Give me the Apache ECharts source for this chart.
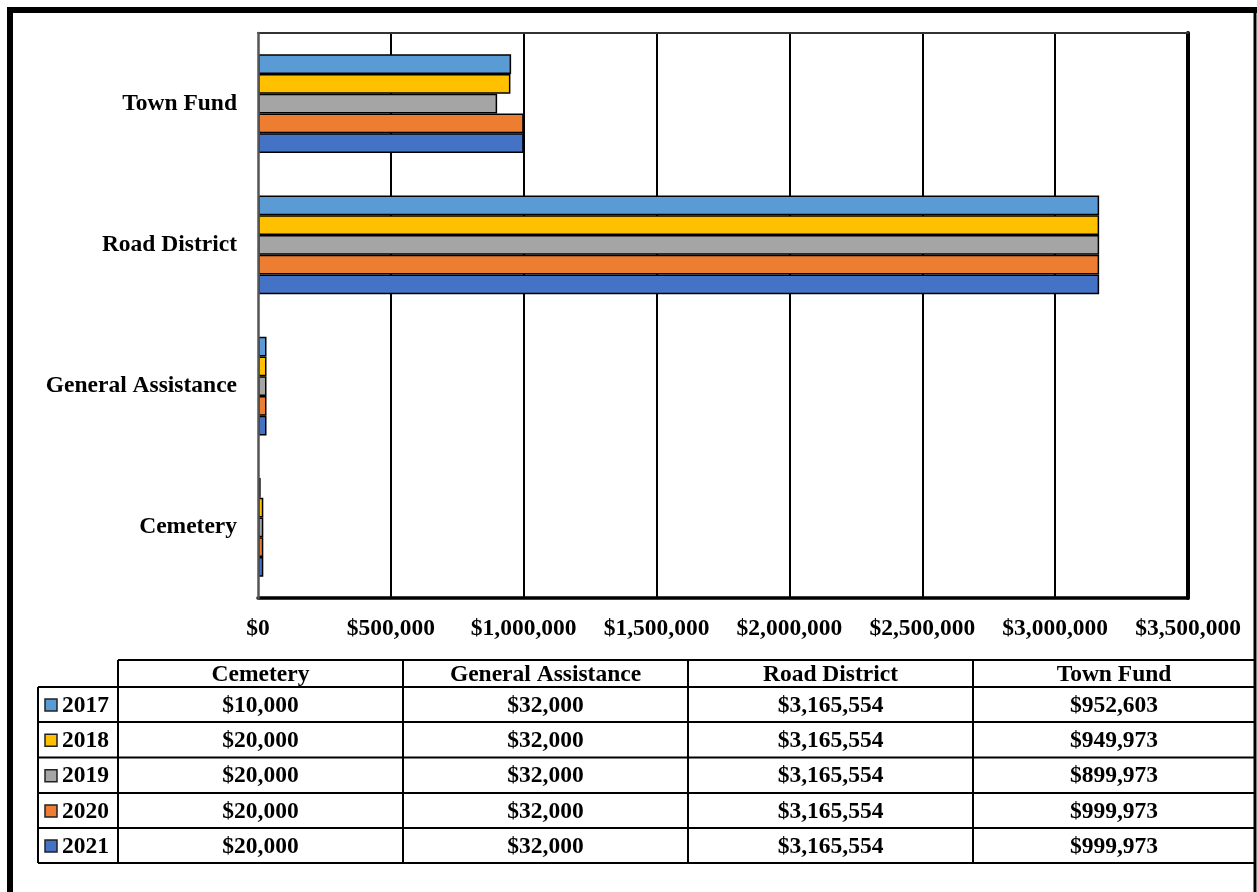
<!DOCTYPE html>
<html>
<head>
<meta charset="utf-8">
<style>
html,body{margin:0;padding:0;background:#fff;}
#chart{width:1257px;height:892px;}
</style>
<script src="https://cdn.jsdelivr.net/npm/echarts@6/dist/echarts.min.js"></script>
</head>
<body>
<div id="chart"></div>
<script>
// ---- data ----
const categories = ['Cemetery', 'General Assistance', 'Road District', 'Town Fund'];
const years = ['2017', '2018', '2019', '2020', '2021'];
const v2017 = [10000, 32000, 3165554, 952603];
const v2018 = [20000, 32000, 3165554, 949973];
const v2019 = [20000, 32000, 3165554, 899973];
const v2020 = [20000, 32000, 3165554, 999973];
const v2021 = [20000, 32000, 3165554, 999973];
const seriesValues = [v2017, v2018, v2019, v2020, v2021];
const axisMin = 0, axisMax = 3500000, axisStep = 500000;

// ---- style ----
const colors = ['#5B9BD5', '#FFC000', '#A5A5A5', '#ED7D31', '#4472C4'];
const FONT = '"Liberation Serif", "Times New Roman", serif';
const FS = 23.5;

function money(v) {
  return '$' + String(Math.round(v)).replace(/\B(?=(\d{3})+(?!\d))/g, ',');
}

const chart = echarts.init(document.getElementById('chart'), null, {renderer: 'canvas'});

// table layout
const colX = [118, 403, 688, 973, 1255];
const legLeft = 38;
const headTop = 660;
const rowY = [687, 722, 757.5, 793, 828, 863];

const graphics = [];
function line(x1, y1, x2, y2, w, c) {
  graphics.push({type: 'line', silent: true, z: 100,
    shape: {x1, y1, x2, y2}, style: {stroke: c || '#000', lineWidth: w}});
}
function text(t, x, y, align) {
  graphics.push({type: 'text', silent: true, z: 101, x, y,
    style: {text: t, fill: '#000', font: 'bold ' + FS + 'px ' + FONT,
      textAlign: align || 'center', align: align || 'center',
      textVerticalAlign: 'middle', verticalAlign: 'middle'}});
}
// outer frame
line(10, 7, 10, 892, 6);
line(7, 10, 1257, 10, 6);
line(1255, 10, 1255, 892, 3);
// table horizontal lines
line(colX[0], headTop, colX[4], headTop, 2);
rowY.forEach(y => line(legLeft, y, colX[4], y, 2));
// vertical lines
line(legLeft, rowY[0], legLeft, rowY[5], 2);
colX.forEach(x => line(x, headTop, x, rowY[5], 2));
// header texts
categories.forEach((c, i) => text(c, (colX[i] + colX[i + 1]) / 2, (headTop + rowY[0]) / 2 + 1));
// rows
years.forEach((yr, r) => {
  const cy = (rowY[r] + rowY[r + 1]) / 2 + 1;
  graphics.push({type: 'rect', silent: true, z: 101,
    shape: {x: 45, y: cy - 6.5, width: 12, height: 12},
    style: {fill: colors[r], stroke: '#222', lineWidth: 1.5}});
  text(yr, 62, cy, 'left');
  seriesValues[r].forEach((v, i) => text(money(v), (colX[i] + colX[i + 1]) / 2, cy));
});

const option = {
  backgroundColor: '#fff',
  animation: false,
  grid: {left: 258, top: 33, right: 69, bottom: 294, containLabel: false},
  xAxis: [{
    type: 'value', min: axisMin, max: axisMax, interval: axisStep,
    axisLine: {show: true, onZero: false, lineStyle: {color: '#000', width: 3.5}},
    axisTick: {show: false},
    splitLine: {show: true, showMinLine: false, showMaxLine: false, lineStyle: {color: '#000', width: 2}},
    axisLabel: {formatter: v => money(v), color: '#000', fontFamily: FONT, fontWeight: 'bold', fontSize: FS, margin: 19}
  }, {
    type: 'value', position: 'top', min: axisMin, max: axisMax, interval: axisStep,
    axisLine: {show: true, onZero: false, lineStyle: {color: '#333', width: 2}},
    axisTick: {show: false}, axisLabel: {show: false}, splitLine: {show: false}
  }],
  yAxis: [{
    type: 'category', data: categories, z: 5,
    axisLine: {show: true, onZero: false, lineStyle: {color: '#555', width: 2.5}},
    axisTick: {show: false},
    axisLabel: {color: '#000', fontFamily: FONT, fontWeight: 'bold', fontSize: FS, margin: 21}
  }, {
    type: 'category', data: categories, position: 'right',
    axisLine: {show: true, onZero: false, lineStyle: {color: '#000', width: 4}},
    axisTick: {show: false}, axisLabel: {show: false}, splitLine: {show: false}
  }],
  series: years.map((yr, i) => ({
    name: yr, type: 'bar', data: seriesValues[i],
    barGap: '0%', barCategoryGap: '30%',
    itemStyle: {color: colors[i], borderColor: '#000', borderWidth: 1.5}
  })),
  graphic: graphics
};
chart.setOption(option);
</script>
</body>
</html>
